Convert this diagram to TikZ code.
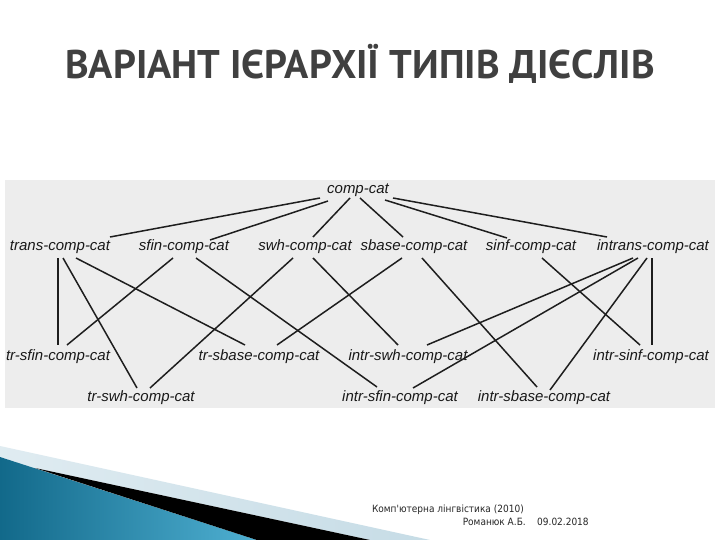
\documentclass[tikz,border=0pt]{standalone}
\usepackage{fontspec}
\setmainfont{Liberation Sans}
\newfontfamily\titlefont{PT Sans}
\newfontfamily\footfont{DejaVu Sans Condensed}
\definecolor{titlegray}{HTML}{404040}
\definecolor{boxgray}{HTML}{EDEDED}
\definecolor{tealdark}{HTML}{12698A}
\definecolor{teallight}{HTML}{4FB0D2}
\definecolor{bandlight}{HTML}{C6DCE6}
\definecolor{linecol}{HTML}{1E1E1E}
\begin{document}
\begin{tikzpicture}[x=1pt,y=-1pt,
  lbl/.style={font=\fontsize{15}{15}\selectfont\itshape, inner sep=0pt, text=black!90},
  conn/.style={draw=linecol, line width=1.5pt},
  foot/.style={font=\footfont\fontsize{10}{10}\selectfont, inner sep=0pt, text=black!85}]
\useasboundingbox (0,0) rectangle (720,540);
\fill[white] (0,0) rectangle (720,540);
% title
\node[font=\titlefont\bfseries\fontsize{40}{40}\selectfont, text=titlegray, inner sep=0pt] (title) at (360,64) {ВАРІАНТ ІЄРАРХІЇ ТИПІВ ДІЄСЛІВ};
% gray box
\fill[boxgray] (5,180) rectangle (715,408);
% swoosh
\shade[left color=bandlight!55!white, right color=bandlight] (0,446) -- (430,540) -- (370,540) -- (35,468) -- (0,457) -- cycle;
\shade[left color=tealdark, right color=teallight] (0,457) -- (257,540) -- (0,540) -- cycle;
\fill[black] (35,468) -- (370,540) -- (257,540) -- cycle;
% nodes
\node[lbl] (cc) at (358,190) {comp-cat};
\node[lbl] (trans) at (60,247) {trans-comp-cat};
\node[lbl] (sfin) at (184,247) {sfin-comp-cat};
\node[lbl] (swh) at (305,247) {swh-comp-cat};
\node[lbl] (sbase) at (414,247) {sbase-comp-cat};
\node[lbl] (sinf) at (531,247) {sinf-comp-cat};
\node[lbl] (intrans) at (653,247) {intrans-comp-cat};
\node[lbl] (trsfin) at (58,357) {tr-sfin-comp-cat};
\node[lbl] (trsbase) at (259,357) {tr-sbase-comp-cat};
\node[lbl] (intrswh) at (408,357) {intr-swh-comp-cat};
\node[lbl] (intrsinf) at (651,357) {intr-sinf-comp-cat};
\node[lbl] (trswh) at (141,398) {tr-swh-comp-cat};
\node[lbl] (intrsfin) at (400,398) {intr-sfin-comp-cat};
\node[lbl] (intrsbase) at (544,398) {intr-sbase-comp-cat};
% connectors from comp-cat
\draw[conn] ([shift={(-38,8)}]cc.center) -- ([shift={(50,-10)}]trans.center);
\draw[conn] ([shift={(-30,11)}]cc.center) -- ([shift={(26,-7)}]sfin.center);
\draw[conn] ([shift={(-8,8)}]cc.center) -- ([shift={(8,-10)}]swh.center);
\draw[conn] ([shift={(2,8)}]cc.center) -- ([shift={(-11,-10)}]sbase.center);
\draw[conn] ([shift={(27,10)}]cc.center) -- ([shift={(-24,-9)}]sinf.center);
\draw[conn] ([shift={(35,8)}]cc.center) -- ([shift={(-46,-10)}]intrans.center);
% second level to third
\draw[conn] ([shift={(-2,11)}]trans.center) -- ([shift={(0,-12)}]trsfin.center);
\draw[conn] ([shift={(3,11)}]trans.center) -- ([shift={(-4,-10)}]trswh.center);
\draw[conn] ([shift={(16,11)}]trans.center) -- ([shift={(-14,-12)}]trsbase.center);
\draw[conn] ([shift={(-11,11)}]sfin.center) -- ([shift={(9,-12)}]trsfin.center);
\draw[conn] ([shift={(12,11)}]sfin.center) -- ([shift={(-23,-11)}]intrsfin.center);
\draw[conn] ([shift={(-12,11)}]swh.center) -- ([shift={(9,-10)}]trswh.center);
\draw[conn] ([shift={(8,11)}]swh.center) -- ([shift={(-10,-12)}]intrswh.center);
\draw[conn] ([shift={(-12,11)}]sbase.center) -- ([shift={(18,-12)}]trsbase.center);
\draw[conn] ([shift={(8,11)}]sbase.center) -- ([shift={(-7,-11)}]intrsbase.center);
\draw[conn] ([shift={(11,11)}]sinf.center) -- ([shift={(-11,-12)}]intrsinf.center);
\draw[conn] ([shift={(-20,11)}]intrans.center) -- ([shift={(19,-12)}]intrswh.center);
\draw[conn] ([shift={(-15,11)}]intrans.center) -- ([shift={(13,-10)}]intrsfin.center);
\draw[conn] ([shift={(-6,11)}]intrans.center) -- ([shift={(6,-8)}]intrsbase.center);
\draw[conn] ([shift={(-1,11)}]intrans.center) -- ([shift={(1,-12)}]intrsinf.center);
% footer
\node[foot, anchor=east] (foot1) at (524,510) {Комп'ютерна лінгвістика (2010)};
\node[foot, anchor=east] (foot2) at (526,522) {Романюк А.Б.};
\node[foot, anchor=west] (foot3) at (537,522) {09.02.2018};
\end{tikzpicture}
\end{document}
